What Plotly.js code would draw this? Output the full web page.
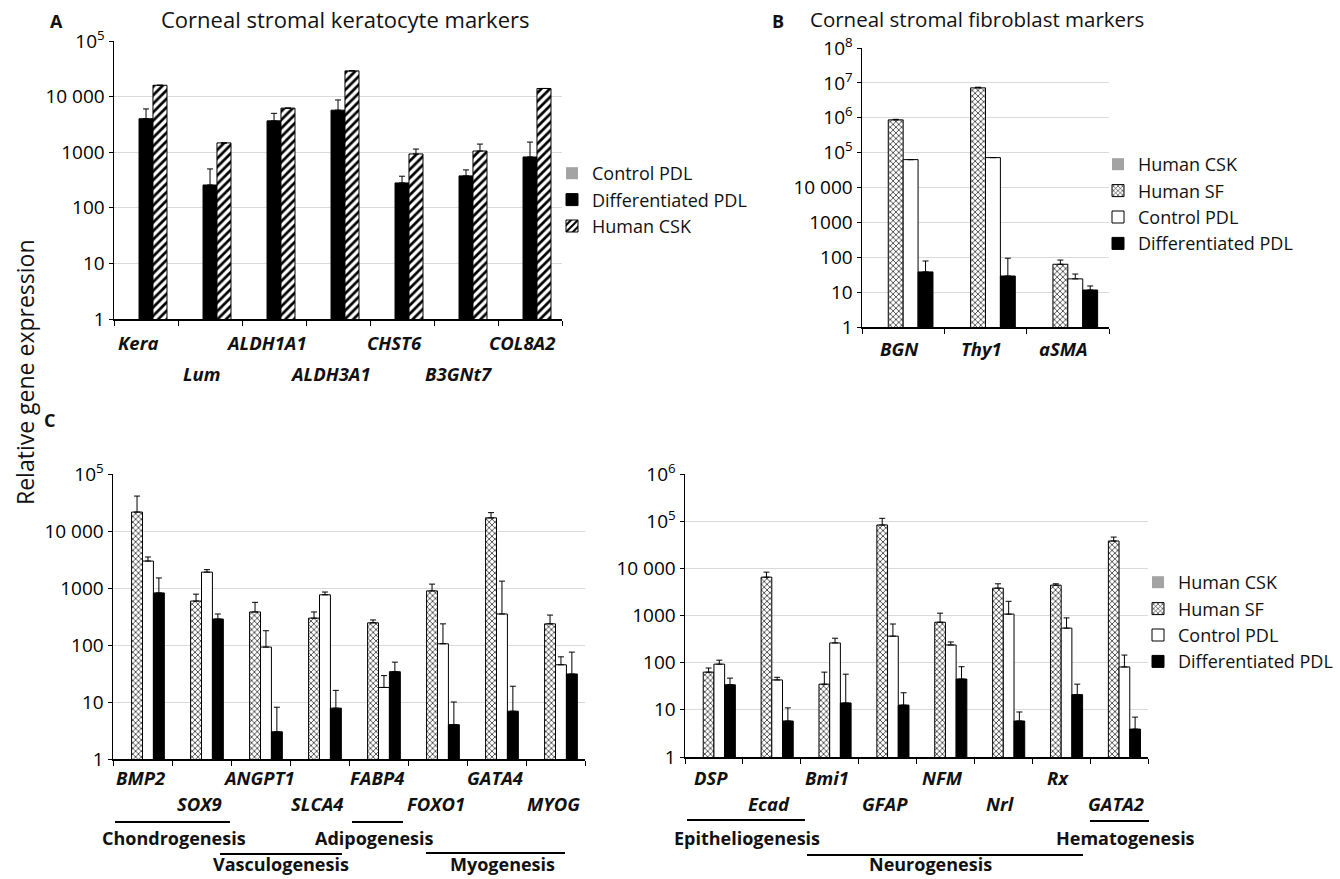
<!DOCTYPE html>
<html><head><meta charset="utf-8">
<script src="https://cdn.plot.ly/plotly-3.0.1.min.js"></script>
<style>html,body{margin:0;padding:0;background:#fff}#chart{width:1340px;height:879px}</style>
</head><body><div id="chart"></div>
<script>
// ---------- Panel A : corneal stromal keratocyte markers ----------
const catsA = ['Kera','Lum','ALDH1A1','ALDH3A1','CHST6','B3GNt7','COL8A2'];
const a_diff = [4000, 257, 3660, 5700, 280, 375, 820];
const a_diff_err = [2000, 243, 1340, 3000, 90, 105, 700];
const a_csk = [16000, 1470, 6200, 29000, 930, 1050, 14000];
const a_csk_err = [0, 0, 0, 0, 210, 350, 0];

// ---------- Panel B : corneal stromal fibroblast markers ----------
const catsB = ['BGN','Thy1','aSMA'];
const b_sf = [870000, 7200000, 63];
const b_sf_err = [30000, 300000, 20];
const b_ctrl = [63000, 72000, 24];
const b_ctrl_err = [0, 0, 9];
const b_diff = [38, 29, 11.5];
const b_diff_err = [40, 65, 3.5];

// ---------- Panel C (left) ----------
const catsC1 = ['BMP2','SOX9','ANGPT1','SLCA4','FABP4','FOXO1','GATA4','MYOG'];
const c1_sf = [21500, 590, 380, 296, 245, 890, 17000, 235];
const c1_sf_err = [19500, 190, 180, 84, 30, 280, 4000, 100];
const c1_ctrl = [2970, 1900, 92, 760, 18, 105, 350, 45];
const c1_ctrl_err = [530, 200, 86, 90, 11, 130, 970, 17];
const c1_diff = [820, 286, 3.0, 7.8, 34, 4.0, 6.9, 31];
const c1_diff_err = [680, 64, 5.1, 8.2, 16, 6, 12, 44];

// ---------- Panel C (right) ----------
const catsC2 = ['DSP','Ecad','Bmi1','GFAP','NFM','Nrl','Rx','GATA2'];
const c2_sf = [63, 6500, 35, 83000, 720, 3800, 4400, 38000];
const c2_sf_err = [14, 1800, 28, 32000, 400, 900, 300, 8000];
const c2_ctrl = [93, 43, 262, 365, 237, 1070, 540, 81];
const c2_ctrl_err = [20, 6, 68, 295, 38, 930, 350, 64];
const c2_diff = [34, 5.8, 14, 12.6, 45, 5.8, 21, 3.9];
const c2_diff_err = [13, 5.2, 43, 10.4, 37, 3.2, 14, 3.1];

// tick labels
const tickVals8 = [1,10,100,1000,10000,1e5,1e6,1e7,1e8];
const tickText8 = ['1','10','100','1000','10 000','10<sup>5</sup>','10<sup>6</sup>','10<sup>7</sup>','10<sup>8</sup>'];

// groups of panel C
const groupsC = [
  {name:'Chondrogenesis', line:[115,230,822], text:[174,838]},
  {name:'Adipogenesis',   line:[352,403,822], text:[374,838]},
  {name:'Vasculogenesis', line:[220,342,854], text:[281,864]},
  {name:'Myogenesis',     line:[426,565,853], text:[502,864]},
  {name:'Epitheliogenesis', line:[687,805,820], text:[747,838]},
  {name:'Neurogenesis',   line:[807,1083,855], text:[930,864]},
  {name:'Hematogenesis',  line:[1090,1149,821], text:[1125,838]}
];

// ---------- helpers ----------
const W = 1340, H = 879;
const px = x => x / W, py = y => 1 - y / H;
const zeros = a => a.map(() => 0);
const nulls = a => a.map(() => null);
const FONT = '"Open Sans", Lato, sans-serif';

const STYLE = {
  grey:  {color:'#a3a3a3', line:{color:'#a3a3a3', width:0}},
  black: {color:'#000', line:{color:'#000', width:1}},
  white: {color:'#fff', line:{color:'#000', width:1}},
  diag:  {color:'#fff', line:{color:'#000', width:1}, pattern:{shape:'/', size:6, solidity:0.45, fgcolor:'#000', bgcolor:'#fff'}},
  zig:   {color:'#fff', line:{color:'#000', width:1}, pattern:{shape:'x', size:4, solidity:0.32, fgcolor:'#111', bgcolor:'#fff'}}
};

function bar(name, cats, vals, errs, ax, offset, width, style, legend, showlegend) {
  const t = {
    type:'bar', name:name, x:cats.map((c,i)=>i), y:vals,
    xaxis:'x'+ax, yaxis:'y'+ax, offset:offset, width:width,
    marker:style, showlegend:showlegend, legend:legend, hoverinfo:'y+name'
  };
  if (errs) t.error_y = {type:'data', symmetric:false, array:errs, arrayminus:zeros(errs),
                         color:'#000', thickness:1, width:3};
  return t;
}

const data = [
  // A
  bar('Control PDL', catsA, nulls(catsA), null, '', -0.328, 0.219, STYLE.grey, 'legend', true),
  bar('Differentiated PDL', catsA, a_diff, a_diff_err, '', -0.109, 0.219, STYLE.black, 'legend', true),
  bar('Human CSK', catsA, a_csk, a_csk_err, '', 0.109, 0.219, STYLE.diag, 'legend', true),
  // B
  bar('Human CSK', catsB, nulls(catsB), null, '2', -0.362, 0.181, STYLE.grey, 'legend2', true),
  bar('Human SF', catsB, b_sf, b_sf_err, '2', -0.181, 0.181, STYLE.zig, 'legend2', true),
  bar('Control PDL', catsB, b_ctrl, b_ctrl_err, '2', 0, 0.181, STYLE.white, 'legend2', true),
  bar('Differentiated PDL', catsB, b_diff, b_diff_err, '2', 0.181, 0.181, STYLE.black, 'legend2', true),
  // C left
  bar('Human CSK', catsC1, nulls(catsC1), null, '3', -0.37, 0.185, STYLE.grey, 'legend3', false),
  bar('Human SF', catsC1, c1_sf, c1_sf_err, '3', -0.185, 0.185, STYLE.zig, 'legend3', false),
  bar('Control PDL', catsC1, c1_ctrl, c1_ctrl_err, '3', 0, 0.185, STYLE.white, 'legend3', false),
  bar('Differentiated PDL', catsC1, c1_diff, c1_diff_err, '3', 0.185, 0.185, STYLE.black, 'legend3', false),
  // C right
  bar('Human CSK', catsC2, nulls(catsC2), null, '4', -0.37, 0.185, STYLE.grey, 'legend3', true),
  bar('Human SF', catsC2, c2_sf, c2_sf_err, '4', -0.185, 0.185, STYLE.zig, 'legend3', true),
  bar('Control PDL', catsC2, c2_ctrl, c2_ctrl_err, '4', 0, 0.185, STYLE.white, 'legend3', true),
  bar('Differentiated PDL', catsC2, c2_diff, c2_diff_err, '4', 0.185, 0.185, STYLE.black, 'legend3', true)
];

function xax(x0, x1, n, anchor) {
  return {domain:[px(x0), px(x1)], range:[-0.5, n-0.5], anchor:anchor, type:'linear',
          showline:true, linecolor:'#000', linewidth:1.5, ticks:'outside', ticklen:5, tickcolor:'#000',
          tickwidth:1, tickvals:Array.from({length:n+1},(_,i)=>i-0.5), showticklabels:false,
          showgrid:false, zeroline:false, fixedrange:true};
}
function yax(y0, y1, dec, anchor) {
  return {domain:[py(y1), py(y0)], type:'log', range:[0, dec], anchor:anchor,
          tickvals:tickVals8.slice(0, dec+1), ticktext:tickText8.slice(0, dec+1),
          showline:true, linecolor:'#000', linewidth:1.5, ticks:'outside', ticklen:4, tickcolor:'#000',
          gridcolor:'#dadada', gridwidth:1, tickfont:{size:19, color:'#000', family:FONT},
          zeroline:false, fixedrange:true};
}

const annotations = [];
function lab(text, x, y, size, opts) {
  annotations.push(Object.assign({xref:'paper', yref:'paper', x:px(x), y:py(y), text:text,
    showarrow:false, xanchor:'center', yanchor:'middle', font:{size:size, color:'#111', family:FONT}}, opts||{}));
}
lab('<b>A</b>', 56, 21, 18);
lab('<b>B</b>', 778, 21, 18);
lab('<b>C</b>', 50, 420, 18);
lab('Corneal stromal keratocyte markers', 345, 19, 22);
lab('Corneal stromal fibroblast markers', 977, 19, 20.5);
lab('Relative gene expression', 25, 372, 23, {textangle:-90});

function catLabels(cats, ax, yUp, yLow, stagger, shift) {
  cats.forEach((c, i) => {
    annotations.push({xref:'x'+ax, yref:'paper', x:i, y:py(stagger && i%2 ? yLow : yUp),
      text:'<b><i>'+c+'</i></b>', showarrow:false, xanchor:'center', yanchor:'middle', xshift:shift,
      font:{size:18.5, color:'#111', family:FONT}});
  });
}
catLabels(catsA, '', 343, 373, true, -8);
catLabels(catsB, '2', 348, 348, false, -4);
catLabels(catsC1, '3', 777, 803, true, -2);
catLabels(catsC2, '4', 777, 803, true, -3);

const shapes = [];
groupsC.forEach(g => {
  shapes.push({type:'line', xref:'paper', yref:'paper', x0:px(g.line[0]), x1:px(g.line[1]),
               y0:py(g.line[2]), y1:py(g.line[2]), line:{color:'#000', width:2}});
  lab('<b>'+g.name+'</b>', g.text[0], g.text[1], 18);
});

const legBase = {bgcolor:'rgba(0,0,0,0)', borderwidth:0, font:{size:18, color:'#111', family:FONT},
                 xanchor:'left', yanchor:'top', itemclick:false, itemdoubleclick:false, traceorder:'normal'};

const layout = {
  width:W, height:H, margin:{l:0, r:0, t:0, b:0},
  paper_bgcolor:'#fff', plot_bgcolor:'rgba(0,0,0,0)',
  barmode:'overlay', font:{family:FONT, color:'#111'},
  xaxis: xax(114, 562, catsA.length, 'y'),   yaxis: yax(41, 319, 5, 'x'),
  xaxis2: xax(862, 1109, catsB.length, 'y2'), yaxis2: yax(48, 327, 8, 'x2'),
  xaxis3: xax(113, 585, catsC1.length, 'y3'), yaxis3: yax(474, 759, 5, 'x3'),
  xaxis4: xax(685, 1148, catsC2.length, 'y4'), yaxis4: yax(474, 757, 6, 'x4'),
  legend:  Object.assign({}, legBase, {x:px(552), y:py(155)}),
  legend2: Object.assign({}, legBase, {x:px(1098), y:py(146)}),
  legend3: Object.assign({}, legBase, {x:px(1138), y:py(564)}),
  annotations: annotations, shapes: shapes, hovermode:false
};

Plotly.newPlot('chart', data, layout, {displayModeBar:false, staticPlot:true});
</script></body></html>
